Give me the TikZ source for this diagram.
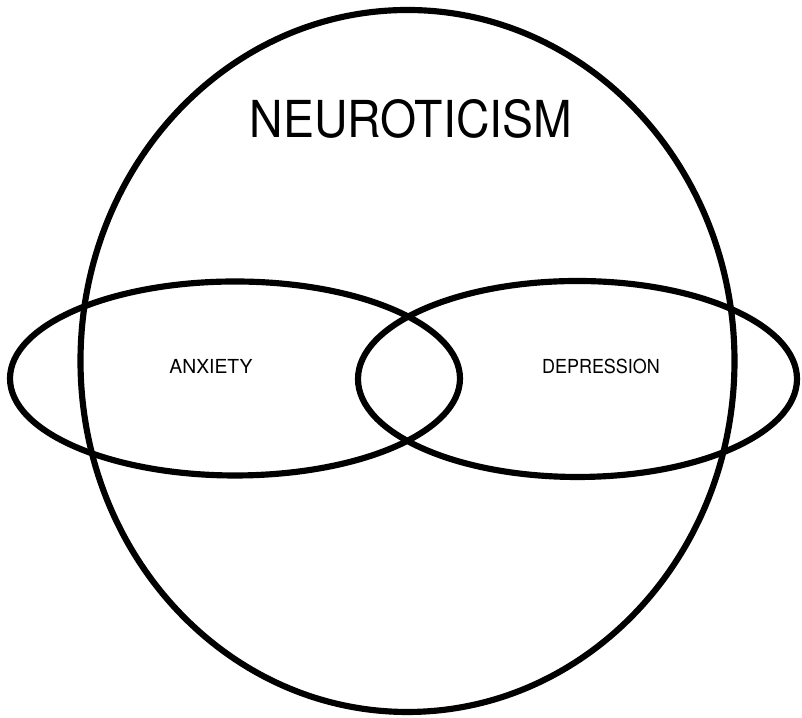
\documentclass[tikz,border=0pt]{standalone}
\usepackage{fontspec}
\setmainfont{TeX Gyre Heros}
\usepackage{tikz}
\usetikzlibrary{calc}

\tikzset{
  outline/.style={line width=3.5pt, black},
  label/.style={font=\fontsize{11}{13}\selectfont, inner sep=0pt}
}

\begin{document}
\begin{tikzpicture}
            \useasboundingbox (0,0) rectangle (16.04,14.36);
            % The big region Neuroticism
            \draw[outline] (8.15,7.14) ellipse [x radius=6.54, y radius=7.02];
            \node[inner sep=0pt, xscale=0.91, transform shape, font=\fontsize{29}{34}\selectfont] (neuro) at (8.22,11.99) {NEUROTICISM};
            % Anxiety on the left
            \draw[outline] (4.70,6.79) ellipse [x radius=4.50, y radius=1.94];
            \node[label] (anx) at (4.22,7.04) {ANXIETY};
            % Depression on the right
            \draw[outline] (11.55,6.78) ellipse [x radius=4.39, y radius=1.96];
            \node[label, xscale=0.93, transform shape] (dep) at (12.02,7.04) {DEPRESSION};
          \end{tikzpicture}
\end{document}
